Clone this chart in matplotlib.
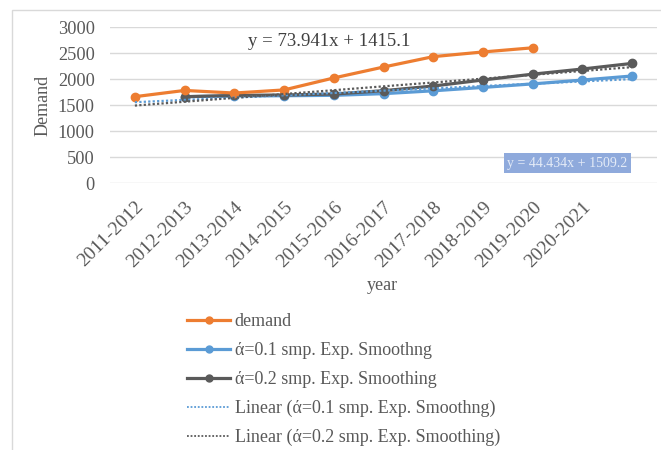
import numpy as np
import matplotlib
matplotlib.use("Agg")
import matplotlib.pyplot as plt
from matplotlib.lines import Line2D
from matplotlib.patches import Rectangle

plt.rcParams['font.family'] = ['Liberation Serif', 'DejaVu Serif']

# Categories (the 11th period has no label)
periods = ['2011-2012', '2012-2013', '2013-2014', '2014-2015', '2015-2016',
           '2016-2017', '2017-2018', '2018-2019', '2019-2020', '2020-2021']
n_periods = 11

# Observed demand (periods 1-9)
demand = [1660, 1780, 1730, 1790, 2020, 2230, 2430, 2520, 2600]
# Simple exponential smoothing forecasts (periods 2-11)
ses_a01 = [1660, 1672, 1678, 1686, 1718, 1773, 1838, 1906, 1980, 2058]
ses_a02 = [1660, 1684, 1693, 1711, 1775, 1865, 1981, 2093, 2192, 2300]
# Linear trendline coefficients (slope, intercept)
trend_a01 = (44.434, 1509.2)
trend_a02 = (73.941, 1415.1)

yticks = [0, 500, 1000, 1500, 2000, 2500, 3000]

ORANGE = '#ED7D31'
BLUE = '#5B9BD5'
GREY = '#5A5A5A'
TXT = '#595959'
GRID = '#D9D9D9'

W, H = 661, 450
fig = plt.figure(figsize=(W / 100, H / 100), dpi=100)
ax = fig.add_axes([110 / W, 1 - 183 / H, 547 / W, 156 / H])

# chart area border
fig.patches.append(Rectangle((12 / W, -0.1), 1.2, 1 - 10 / H + 0.1,
                             transform=fig.transFigure, fill=False,
                             ec=GRID, lw=1, zorder=0))

x_demand = np.arange(1, len(demand) + 1)
x_ses = np.arange(2, 2 + len(ses_a01))
x_all = np.arange(1, n_periods + 1)

lw, ms = 2.3, 6
ax.plot(x_demand, demand, color=ORANGE, lw=lw, marker='o', ms=ms, zorder=4)
ax.plot(x_ses, ses_a01, color=BLUE, lw=lw, marker='o', ms=ms, zorder=3)
ax.plot(x_ses, ses_a02, color=GREY, lw=lw, marker='o', ms=ms, zorder=3)
ax.plot(x_all, trend_a01[0] * x_all + trend_a01[1], color=BLUE, lw=1.6,
        ls=(0, (1, 1)), zorder=5)
ax.plot(x_all, trend_a02[0] * x_all + trend_a02[1], color=GREY, lw=1.6,
        ls=(0, (1, 1)), zorder=5)

ax.set_xlim(0.5, n_periods + 0.5)
ax.set_ylim(0, 3000)
ax.set_yticks(yticks)
ax.yaxis.grid(True, color=GRID, lw=1)
ax.set_axisbelow(True)
for s in ax.spines.values():
    s.set_visible(False)

ax.set_xticks(np.arange(1, len(periods) + 1))
ax.set_xticklabels(periods, rotation=45, ha='right', va='top',
                   rotation_mode='anchor')
ax.tick_params(axis='x', length=0, pad=11, labelsize=14, labelcolor=TXT)
ax.tick_params(axis='y', length=0, pad=11, labelsize=13.2, labelcolor=TXT)

fig.text(43 / W, 1 - 105 / H, 'Demand', fontsize=13, color=TXT,
         rotation=90, ha='center', va='center')
fig.text(382 / W, 1 - 286 / H, 'year', fontsize=13, color=TXT,
         ha='center', va='center')

fig.text(248 / W, 1 - 42 / H, 'y = 73.941x + 1415.1', fontsize=13.5,
         color='#404040', ha='left', va='center')
fig.text(567.5 / W, 1 - 163 / H, 'y = 44.434x + 1509.2', fontsize=10,
         color='#E4EBF7', ha='center', va='center',
         bbox=dict(boxstyle='square,pad=0.25', fc='#8FAADC', ec='none'))

handles = [
    Line2D([], [], color=ORANGE, lw=lw, marker='o', ms=5),
    Line2D([], [], color=BLUE, lw=lw, marker='o', ms=5),
    Line2D([], [], color=GREY, lw=lw, marker='o', ms=5),
    Line2D([], [], color=BLUE, lw=1.3, ls=(0, (1, 1))),
    Line2D([], [], color=GREY, lw=1.3, ls=(0, (1, 1))),
]
labels = ['demand', 'ά=0.1 smp. Exp. Smoothng', 'ά=0.2 smp. Exp. Smoothing',
          'Linear (ά=0.1 smp. Exp. Smoothng)', 'Linear (ά=0.2 smp. Exp. Smoothing)']
leg = fig.legend(handles, labels, loc='upper left',
                 bbox_to_anchor=(187 / W, 1 - 313 / H), frameon=False,
                 fontsize=13, handlelength=2.4, handletextpad=0.25,
                 labelspacing=0.66, borderaxespad=0, borderpad=0)
for t in leg.get_texts():
    t.set_color(TXT)

fig.savefig('out.png', dpi=100)
